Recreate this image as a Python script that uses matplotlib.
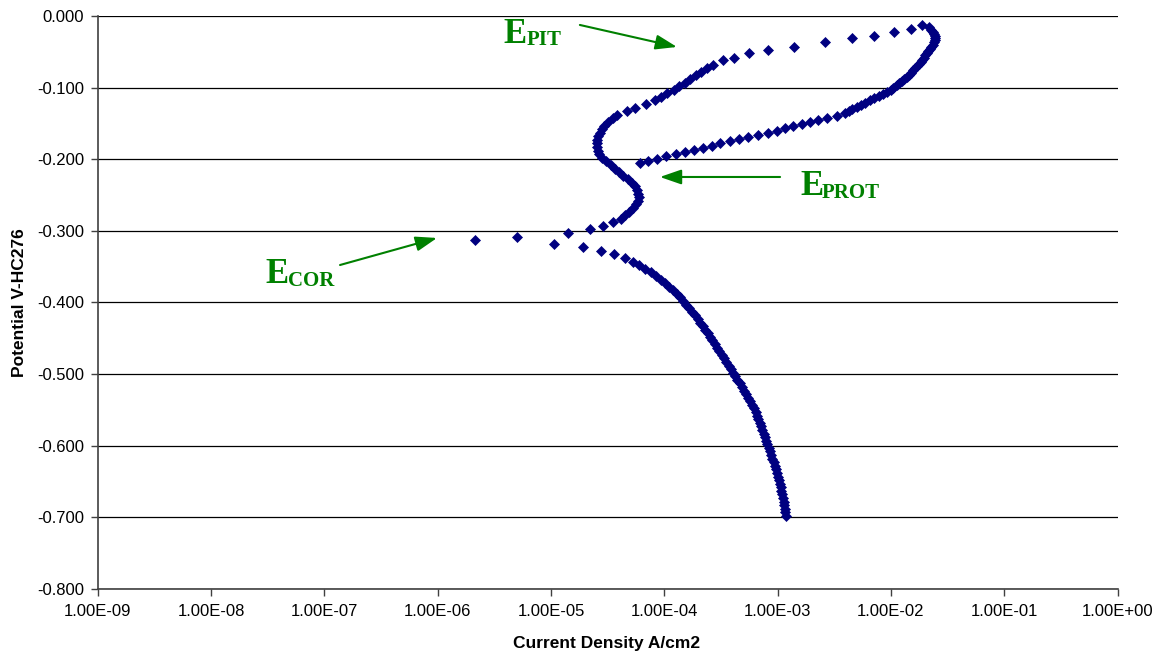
import matplotlib
matplotlib.use("Agg")
import matplotlib.pyplot as plt
import numpy as np
from matplotlib.ticker import FixedLocator, FuncFormatter, NullLocator

# ---- cyclic polarisation scan (potential in V vs HC276, log10 of current density in A/cm2)

# forward scan, cathodic branch (-0.7 V up to the corrosion potential)
cathodic_potential = [
    -0.698, -0.693, -0.688, -0.683, -0.678, -0.673, -0.668, -0.663, -0.658, -0.653,
    -0.648, -0.643, -0.638, -0.633, -0.628, -0.623, -0.618, -0.613, -0.608, -0.603,
    -0.598, -0.593, -0.588, -0.583, -0.578, -0.573, -0.568, -0.563, -0.558, -0.553,
    -0.548, -0.543, -0.538, -0.533, -0.528, -0.523, -0.518, -0.513, -0.508, -0.503,
    -0.498, -0.493, -0.488, -0.483, -0.478, -0.473, -0.468, -0.463, -0.458, -0.453,
    -0.448, -0.443, -0.438, -0.433, -0.428, -0.423, -0.418, -0.413, -0.408, -0.403,
    -0.398, -0.393, -0.388, -0.383, -0.378, -0.373, -0.368, -0.363, -0.358, -0.353,
    -0.348, -0.343, -0.338, -0.333, -0.328, -0.323, -0.318]
cathodic_log_current = [
    -2.928, -2.933, -2.938, -2.943, -2.948, -2.954, -2.961, -2.968, -2.975, -2.982,
    -2.988, -2.994, -3.004, -3.015, -3.025, -3.036, -3.047, -3.058, -3.068, -3.079,
    -3.090, -3.101, -3.113, -3.124, -3.135, -3.146, -3.158, -3.170, -3.181, -3.192,
    -3.205, -3.223, -3.241, -3.260, -3.279, -3.298, -3.317, -3.336, -3.355, -3.373,
    -3.393, -3.413, -3.433, -3.452, -3.473, -3.494, -3.516, -3.537, -3.557, -3.577,
    -3.597, -3.618, -3.639, -3.661, -3.683, -3.705, -3.727, -3.753, -3.779, -3.806,
    -3.834, -3.861, -3.889, -3.921, -3.956, -3.994, -4.033, -4.073, -4.116, -4.168,
    -4.220, -4.274, -4.347, -4.441, -4.561, -4.720, -4.976]

# corrosion potential point
ecor_potential = [-0.313]
ecor_log_current = [-5.671]

# forward scan, anodic branch up to the vertex
anodic_potential = [
    -0.308, -0.303, -0.298, -0.293, -0.288, -0.283, -0.278, -0.273, -0.268, -0.263,
    -0.258, -0.253, -0.248, -0.243, -0.238, -0.233, -0.228, -0.223, -0.218, -0.213,
    -0.208, -0.203, -0.198, -0.193, -0.188, -0.183, -0.178, -0.173, -0.168, -0.163,
    -0.158, -0.153, -0.148, -0.143, -0.138,
    -0.132, -0.128, -0.123, -0.118, -0.113, -0.108, -0.103, -0.098, -0.093, -0.088,
    -0.083, -0.078, -0.073, -0.068, -0.062, -0.058, -0.052, -0.048, -0.043, -0.037,
    -0.031, -0.028, -0.023, -0.018, -0.013]
anodic_log_current = [
    -5.300, -4.847, -4.658, -4.538, -4.453, -4.382, -4.351, -4.316, -4.281, -4.250,
    -4.234, -4.228, -4.232, -4.245, -4.263, -4.290, -4.322, -4.365, -4.400, -4.437,
    -4.475, -4.519, -4.554, -4.576, -4.590, -4.598, -4.598, -4.594, -4.583, -4.569,
    -4.554, -4.532, -4.497, -4.457, -4.417,
    -4.329, -4.259, -4.164, -4.087, -4.029, -3.976, -3.919, -3.870, -3.822, -3.773,
    -3.725, -3.676, -3.626, -3.573, -3.485, -3.385, -3.250, -3.082, -2.853, -2.584,
    -2.346, -2.149, -1.970, -1.825, -1.728]

# reverse scan from the vertex down to the protection potential
reverse_potential = [
    -0.016, -0.019, -0.022, -0.025, -0.028, -0.031, -0.034, -0.037, -0.040, -0.043,
    -0.046, -0.049, -0.052, -0.055, -0.058, -0.061, -0.064, -0.067, -0.070, -0.073,
    -0.076, -0.079, -0.082, -0.085, -0.088, -0.091, -0.094, -0.097, -0.100, -0.103,
    -0.106, -0.109, -0.112, -0.115, -0.118, -0.121, -0.124, -0.127, -0.130, -0.133,
    -0.136, -0.139, -0.142, -0.145, -0.148, -0.151, -0.154, -0.157, -0.160, -0.163,
    -0.166, -0.169, -0.172, -0.175, -0.178, -0.181, -0.184, -0.187, -0.190, -0.193,
    -0.196, -0.199, -0.202, -0.205]
reverse_log_current = [
    -1.664, -1.643, -1.628, -1.619, -1.613, -1.612, -1.615, -1.623, -1.633, -1.644,
    -1.657, -1.670, -1.684, -1.697, -1.711, -1.724, -1.739, -1.753, -1.768, -1.786,
    -1.805, -1.824, -1.844, -1.862, -1.882, -1.903, -1.927, -1.951, -1.978, -2.004,
    -2.037, -2.071, -2.107, -2.146, -2.188, -2.229, -2.264, -2.304, -2.343, -2.374,
    -2.405, -2.478, -2.567, -2.641, -2.714, -2.787, -2.861, -2.935, -3.008, -3.089,
    -3.173, -3.259, -3.341, -3.420, -3.508, -3.582, -3.658, -3.738, -3.817, -3.897,
    -3.985, -4.067, -4.141, -4.215]

# axis ticks
x_ticks = [1e-9, 1e-8, 1e-7, 1e-6, 1e-5, 1e-4, 1e-3, 1e-2, 1e-1, 1e0]
y_ticks = [0.0, -0.1, -0.2, -0.3, -0.4, -0.5, -0.6, -0.7, -0.8]

x_label = "Current Density A/cm2"
y_label = "Potential V-HC276"

# ---- figure
plt.rcParams["font.family"] = ["Liberation Sans", "DejaVu Sans"]

fig = plt.figure(figsize=(11.62, 6.57), dpi=100)
ax = fig.add_axes([0.0842, 0.1035, 0.8776, 0.8722])

potential = cathodic_potential + ecor_potential + anodic_potential + reverse_potential
log_current = (cathodic_log_current + ecor_log_current
               + anodic_log_current + reverse_log_current)
current = np.power(10.0, np.array(log_current))

ax.plot(current, potential, linestyle="none", marker="D", markersize=5.4,
        markerfacecolor="#000080", markeredgecolor="#000080", markeredgewidth=0.5,
        zorder=3)

ax.set_xscale("log")
ax.set_xlim(x_ticks[0], x_ticks[-1])
ax.set_ylim(y_ticks[-1], y_ticks[0])

ax.xaxis.set_major_locator(FixedLocator(x_ticks))
ax.xaxis.set_minor_locator(NullLocator())
ax.xaxis.set_major_formatter(FuncFormatter(lambda v, p: f"{v:.2E}"))
ax.yaxis.set_major_locator(FixedLocator(y_ticks))
ax.yaxis.set_major_formatter(FuncFormatter(lambda v, p: f"{abs(v):.3f}" if abs(v) < 1e-9 else f"{v:.3f}"))

ax.tick_params(axis="both", direction="out", length=5, width=1, color="#404040",
               labelsize=12, labelcolor="black")
ax.tick_params(axis="x", pad=6)
ax.tick_params(axis="y", pad=5)

ax.grid(axis="y", color="black", linewidth=0.9, zorder=1)
ax.grid(axis="x", visible=False)
ax.set_axisbelow(True)

for side in ("top", "right"):
    ax.spines[side].set_visible(False)
for side in ("left", "bottom"):
    ax.spines[side].set_color("#404040")
    ax.spines[side].set_linewidth(1.2)

ax.set_xlabel(x_label, fontsize=12.5, fontweight="bold")
ax.set_ylabel(y_label, fontsize=12.5, fontweight="bold")
ax.xaxis.set_label_coords(0.4993, -0.082)
ax.yaxis.set_label_coords(-0.069, 0.5)

# ---- annotations: pitting, protection and corrosion potentials
green = "#008000"
serif = ["Liberation Serif", "DejaVu Serif"]


def potential_label(x_main, y_main, x_sub, y_sub, sub):
    ax.text(x_main, y_main, "E", transform=ax.transAxes, fontsize=25,
            fontweight="bold", family=serif, color=green, va="baseline", ha="left")
    ax.text(x_sub, y_sub, sub, transform=ax.transAxes, fontsize=15,
            fontweight="bold", family=serif, color=green, va="baseline", ha="left")


potential_label(0.3973, 0.9529, 0.4209, 0.9494, "PIT")
potential_label(0.6886, 0.6876, 0.7102, 0.6824, "PROT")
potential_label(0.1639, 0.5340, 0.1865, 0.5288, "COR")

arrow = dict(arrowstyle="-|>,head_length=1.3,head_width=0.45", color=green,
             lw=1.5, mutation_scale=10, shrinkA=0, shrinkB=0)
ax.annotate("", xy=(0.5679, 0.9459), xytext=(0.4727, 0.9843),
            xycoords="axes fraction", textcoords="axes fraction", arrowprops=arrow)
ax.annotate("", xy=(0.5512, 0.7190), xytext=(0.6690, 0.7190),
            xycoords="axes fraction", textcoords="axes fraction", arrowprops=arrow)
ax.annotate("", xy=(0.3326, 0.6126), xytext=(0.2375, 0.5654),
            xycoords="axes fraction", textcoords="axes fraction", arrowprops=arrow)

fig.savefig("out.png", dpi=100, facecolor="white")
